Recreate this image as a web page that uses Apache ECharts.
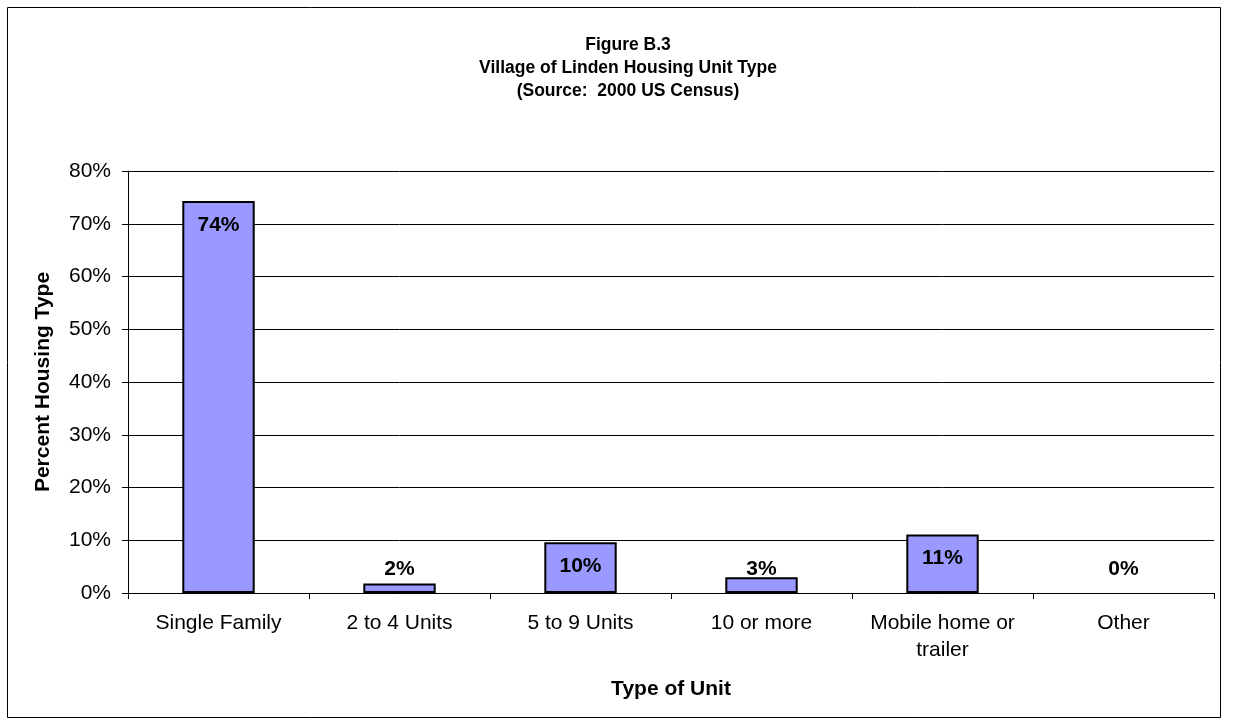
<!DOCTYPE html>
<html><head><meta charset="utf-8">
<script src="https://cdn.jsdelivr.net/npm/echarts@6/dist/echarts.min.js"></script>
<style>html,body{margin:0;padding:0;background:#fff}#c{width:1235px;height:726px}</style>
</head><body><div id="c"></div>
<script>
const categories = ['Single Family', '2 to 4 Units', '5 to 9 Units', '10 or more', 'Mobile home or\ntrailer', 'Other'];
const percents = [74.3, 1.8, 9.6, 3.0, 11.1, 0];
const labelTexts = ['74%', '2%', '10%', '3%', '11%', '0%'];
const yTicks = [0, 10, 20, 30, 40, 50, 60, 70, 80];

const FONT = '"Liberation Sans", Arial, sans-serif';
const FS = 21;
const chart = echarts.init(document.getElementById('c'), null, {renderer: 'canvas'});

const baseOption = {
  animation: false,
  backgroundColor: '#fff',
  textStyle: {fontFamily: FONT},
  title: {
    text: 'Figure B.3\nVillage of Linden Housing Unit Type\n(Source:  2000 US Census)',
    left: 623, top: 29, textAlign: 'center',
    textStyle: {fontFamily: FONT, fontSize: 17.5, fontWeight: 'bold', color: '#000', lineHeight: 23}
  },
  graphic: [{
    type: 'rect', shape: {x: 7.5, y: 7.5, width: 1213, height: 710},
    style: {fill: 'none', stroke: '#000', lineWidth: 1}, silent: true, z: -1
  }],
  grid: {left: 128, right: 21, top: 171, bottom: 133, containLabel: false},
  xAxis: {
    type: 'category', data: categories,
    name: 'Type of Unit', nameLocation: 'middle', nameGap: 86,
    nameTextStyle: {fontFamily: FONT, fontSize: FS, fontWeight: 'bold', color: '#000'},
    axisLine: {lineStyle: {color: '#000', width: 1}},
    axisTick: {show: true, length: 6, lineStyle: {color: '#000'}, alignWithLabel: false},
    axisLabel: {fontFamily: FONT, fontSize: FS, color: '#000', margin: 17, lineHeight: 27, interval: 0}
  },
  yAxis: {
    type: 'value', min: 0, max: 80, interval: 10,
    name: 'Percent Housing Type', nameLocation: 'middle', nameGap: 74, nameRotate: 90,
    nameTextStyle: {fontFamily: FONT, fontSize: FS, fontWeight: 'bold', color: '#000'},
    axisLine: {show: true, lineStyle: {color: '#000', width: 1}},
    axisTick: {show: true, length: 6, lineStyle: {color: '#000'}},
    axisLabel: {fontFamily: FONT, fontSize: FS, color: '#000', margin: 17, formatter: v => yTicks.includes(v) ? v + '%' : ''},
    splitLine: {show: true, lineStyle: {color: '#000', width: 1}}
  },
  series: [{
    type: 'bar', data: percents, barWidth: '40%',
    itemStyle: {color: '#9999FF', borderColor: '#000', borderWidth: 2},
    label: {show: false}
  }]
};
chart.setOption(baseOption);

// Excel-style "inside end" labels, clamped above the baseline for short bars
const base = chart.convertToPixel({yAxisIndex: 0}, 0);
const half = FS / 2;
const items = percents.map((v, i) => {
  const top = chart.convertToPixel({yAxisIndex: 0}, v);
  const center = Math.min(top + 24, base - 24);
  let label;
  if (center >= top + half + 8) {
    label = {show: true, position: 'insideTop', distance: center - top - half};
  } else {
    label = {show: true, position: 'top', distance: top - center - half};
  }
  const item = {value: v, label: Object.assign(label, {
    formatter: labelTexts[i], fontFamily: FONT, fontSize: FS, fontWeight: 'bold', color: '#000'
  })};
  if (v === 0) item.itemStyle = {borderWidth: 0};
  return item;
});
chart.setOption({series: [{data: items}]});
</script></body></html>
